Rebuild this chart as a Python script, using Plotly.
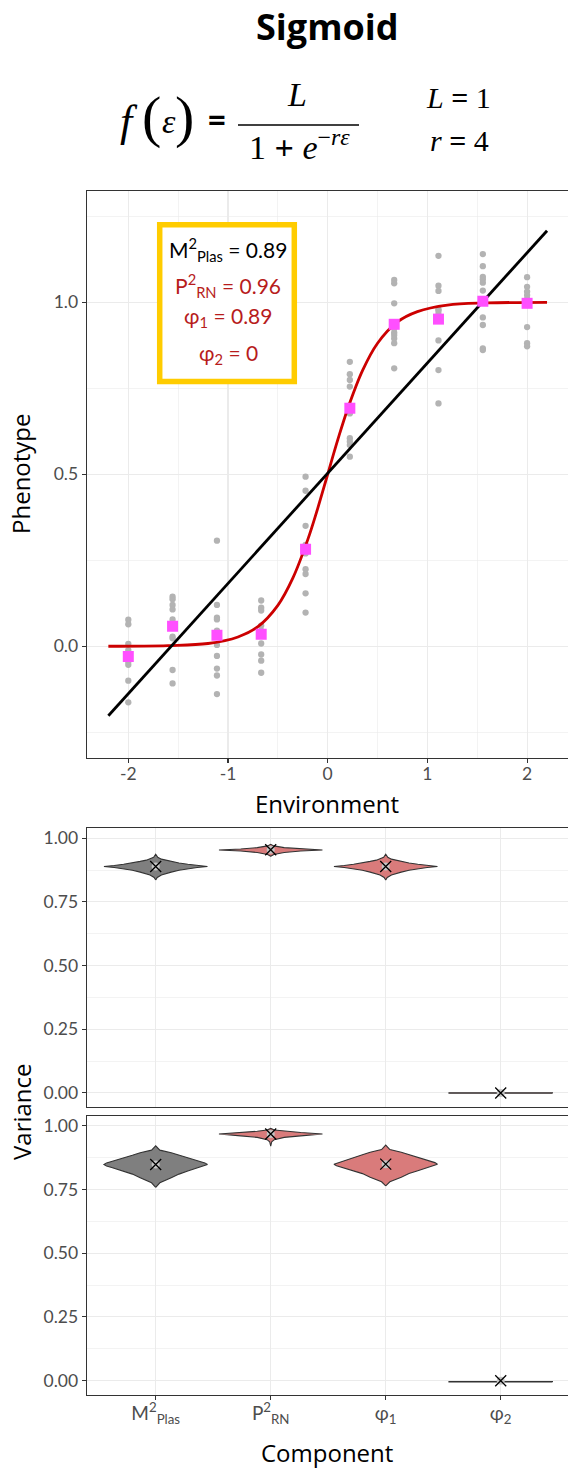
import plotly.graph_objects as go

W, H = 568, 1470
FONT = "Lato"
TFONT = "Open Sans"
SERIF = "Liberation Serif"

# ---------------- data: reaction-norm panel ----------------
env_levels = [-2.0, -1.556, -1.111, -0.667, -0.222, 0.222, 0.667, 1.111, 1.556, 2.0]
pheno_obs = [
    [0.077, 0.064, 0.007, -0.011, -0.035, -0.040, -0.045, -0.054, -0.100, -0.163],
    [0.144, 0.137, 0.120, 0.107, 0.078, 0.067, 0.028, 0.023, -0.069, -0.108],
    [0.307, 0.120, 0.083, 0.078, 0.045, 0.004, -0.028, -0.065, -0.085, -0.139],
    [0.133, 0.112, 0.104, 0.060, 0.045, 0.035, 0.008, -0.024, -0.042, -0.077],
    [0.493, 0.452, 0.350, 0.295, 0.274, 0.270, 0.224, 0.210, 0.154, 0.098],
    [0.827, 0.791, 0.774, 0.755, 0.700, 0.677, 0.605, 0.595, 0.585, 0.551],
    [1.065, 1.055, 0.997, 0.935, 0.924, 0.912, 0.905, 0.895, 0.881, 0.808],
    [1.135, 1.048, 1.033, 0.980, 0.975, 0.965, 0.960, 0.889, 0.803, 0.706],
    [1.140, 1.105, 1.074, 1.067, 1.057, 1.034, 0.956, 0.934, 0.866, 0.861],
    [1.073, 1.045, 1.031, 1.021, 1.010, 1.000, 0.995, 0.928, 0.881, 0.872],
]
mean_pheno = [-0.030, 0.058, 0.032, 0.035, 0.282, 0.692, 0.936, 0.951, 1.003, 0.997]

curve_x = [-2.2, -1.6, -1.2, -0.9, -0.7, -0.5, -0.35, -0.2, -0.1, 0.0,
           0.1, 0.2, 0.35, 0.5, 0.7, 0.9, 1.2, 1.6, 2.2]
curve_y = [0.000, 0.002, 0.008, 0.027, 0.057, 0.119, 0.198, 0.310, 0.401, 0.500,
           0.599, 0.690, 0.802, 0.881, 0.943, 0.973, 0.992, 0.998, 1.000]

fit_x = [-2.2, 2.2]
fit_y = [-0.202, 1.208]

env_ticks = [-2, -1, 0, 1, 2]
env_ticktext = ["-2", "-1", "0", "1", "2"]
pheno_ticks = [0, 0.5, 1.0]
pheno_ticktext = ["0.0", "0.5", "1.0"]

box_labels = ["M<sup>2</sup><sub>Plas</sub>", "P<sup>2</sup><sub>RN</sub>",
              "φ<sub>1</sub>", "φ<sub>2</sub>"]
box_values = ["0.89", "0.96", "0.89", "0"]

# ---------------- data: variance violins ----------------
comp_labels = ["M<sup>2</sup><sub>Plas</sub>", "P<sup>2</sup><sub>RN</sub>",
               "φ<sub>1</sub>", "φ<sub>2</sub>"]
var_ticks = [0, 0.25, 0.5, 0.75, 1.0]
var_ticktext = ["0.00", "0.25", "0.50", "0.75", "1.00"]

# panel A (middle)
mplas_a_y = [0.836, 0.846, 0.856, 0.862, 0.867, 0.874, 0.880, 0.885, 0.889,
             0.893, 0.898, 0.903, 0.909, 0.914, 0.918, 0.925, 0.937]
mplas_a_w = [0.0, 0.03, 0.11, 0.20, 0.30, 0.45, 0.62, 0.80, 1.0,
             0.80, 0.62, 0.45, 0.30, 0.18, 0.11, 0.04, 0.0]
prn_a_y = [0.929, 0.936, 0.944, 0.950, 0.954, 0.958, 0.963, 0.970, 0.976]
prn_a_w = [0.0, 0.06, 0.26, 0.58, 1.0, 0.58, 0.26, 0.06, 0.0]
phi1_a_y = [0.836, 0.846, 0.856, 0.862, 0.867, 0.874, 0.880, 0.885, 0.889,
            0.893, 0.898, 0.903, 0.909, 0.914, 0.918, 0.925, 0.937]
phi1_a_w = [0.0, 0.03, 0.11, 0.20, 0.30, 0.45, 0.62, 0.80, 1.0,
            0.80, 0.62, 0.45, 0.30, 0.18, 0.11, 0.04, 0.0]
phi2_a_y = [-0.001, 0.001]
phi2_a_w = [1.0, 1.0]
mean_a = [0.889, 0.955, 0.889, 0.0]

# panel B (bottom)
mplas_b_y = [0.758, 0.776, 0.796, 0.810, 0.822, 0.836, 0.842, 0.848,
             0.854, 0.860, 0.874, 0.884, 0.894, 0.904, 0.921]
mplas_b_w = [0.0, 0.08, 0.30, 0.45, 0.62, 0.85, 0.95, 1.0,
             0.95, 0.85, 0.62, 0.45, 0.30, 0.08, 0.0]
prn_b_y = [0.920, 0.937, 0.945, 0.954, 0.960, 0.967, 0.973, 0.978, 0.983, 0.989]
prn_b_w = [0.0, 0.02, 0.07, 0.26, 0.58, 1.0, 0.58, 0.26, 0.07, 0.0]
phi1_b_y = [0.764, 0.780, 0.798, 0.812, 0.823, 0.837, 0.843, 0.849,
            0.855, 0.861, 0.875, 0.886, 0.896, 0.906, 0.924]
phi1_b_w = [0.0, 0.08, 0.30, 0.45, 0.62, 0.85, 0.95, 1.0,
            0.95, 0.85, 0.62, 0.45, 0.30, 0.08, 0.0]
phi2_b_y = [-0.005, -0.003]
phi2_b_w = [1.0, 1.0]
mean_b = [0.848, 0.967, 0.849, 0.0]

violin_fill = ["#7F7F7F", "#D97B7B", "#D97B7B", "#D97B7B"]

# ---------------- styling constants ----------------
GRID = "#EBEBEB"
BORDER = "#333333"
TICKC = "#4D4D4D"
RED = "#CC0000"
PINK = "#FF4FFF"
GOLD = "#FFCC00"
BOXRED = "#B71C1C"

def px(x):
    return x / W

def py(y):
    return 1 - y / H

XDOM = [px(86.7), 1.0]
DOM_TOP = [py(757.7), py(191)]
DOM_MID = [py(1106.7), py(828.3)]
DOM_BOT = [py(1395), py(1115.7)]

fig = go.Figure()

# gray observations
obs_x, obs_y = [], []
for e, vals in zip(env_levels, pheno_obs):
    for v in vals:
        obs_x.append(e)
        obs_y.append(v)
fig.add_trace(go.Scatter(x=obs_x, y=obs_y, mode="markers",
                         marker=dict(color="#B3B3B3", size=6.3),
                         xaxis="x", yaxis="y", hoverinfo="skip"))
fig.add_trace(go.Scatter(x=curve_x, y=curve_y, mode="lines",
                         line=dict(color=RED, width=2.8, shape="spline"),
                         xaxis="x", yaxis="y"))
fig.add_trace(go.Scatter(x=fit_x, y=fit_y, mode="lines",
                         line=dict(color="black", width=2.8),
                         xaxis="x", yaxis="y"))
fig.add_trace(go.Scatter(x=env_levels, y=mean_pheno, mode="markers",
                         marker=dict(color=PINK, size=11, symbol="square"),
                         xaxis="x", yaxis="y"))

# violins
def add_violins(profiles, means, xa, ya):
    for i, (ys, ws) in enumerate(profiles):
        xs = [i + 0.45 * w for w in ws] + [i - 0.45 * w for w in reversed(ws)]
        yy = list(ys) + list(reversed(ys))
        xs.append(xs[0])
        yy.append(yy[0])
        fig.add_trace(go.Scatter(x=xs, y=yy, mode="lines", fill="toself",
                                 fillcolor=violin_fill[i],
                                 line=dict(color=BORDER, width=1.1),
                                 xaxis=xa, yaxis=ya, hoverinfo="skip"))
    cats = list(range(len(means)))
    fig.add_trace(go.Scatter(x=cats, y=means, mode="markers",
                             marker=dict(color="#C4C4C4", size=8),
                             xaxis=xa, yaxis=ya))
    fig.add_trace(go.Scatter(x=cats, y=means, mode="markers",
                             marker=dict(symbol="x-thin-open", size=11, color="black",
                                         line=dict(color="black", width=1.3)),
                             xaxis=xa, yaxis=ya))

add_violins([(mplas_a_y, mplas_a_w), (prn_a_y, prn_a_w),
             (phi1_a_y, phi1_a_w), (phi2_a_y, phi2_a_w)], mean_a, "x2", "y2")
add_violins([(mplas_b_y, mplas_b_w), (prn_b_y, prn_b_w),
             (phi1_b_y, phi1_b_w), (phi2_b_y, phi2_b_w)], mean_b, "x3", "y3")

tickfont = dict(family=FONT, size=17.5, color=TICKC)
common_x = dict(showline=True, linecolor=BORDER, linewidth=1.1, mirror=True,
                showgrid=True, gridcolor=GRID, gridwidth=1.1, zeroline=False,
                tickcolor=BORDER, ticklen=4, tickwidth=1.1, tickfont=tickfont)
common_y = dict(showline=True, linecolor=BORDER, linewidth=1.1, mirror=False,
                showgrid=True, gridcolor=GRID, gridwidth=1.1, zeroline=False,
                ticks="outside", tickcolor=BORDER, ticklen=4, tickwidth=1.1,
                tickfont=tickfont)

fig.update_layout(
    width=W, height=H,
    margin=dict(l=0, r=0, t=0, b=0),
    paper_bgcolor="white", plot_bgcolor="white",
    showlegend=False,
    font=dict(family=FONT, color="black"),
    xaxis=dict(domain=XDOM, anchor="y", range=[-2.4173, 2.4102],
               tickvals=env_ticks, ticktext=env_ticktext, ticks="outside",
               ticklabelstandoff=-4,
               minor=dict(tickvals=[-1.5, -0.5, 0.5, 1.5], showgrid=True,
                          gridcolor=GRID, gridwidth=0.6, ticklen=0),
               **common_x),
    yaxis=dict(domain=DOM_TOP, anchor="x", range=[-0.324, 1.3235],
               tickvals=pheno_ticks, ticktext=pheno_ticktext,
               minor=dict(tickvals=[-0.25, 0.25, 0.75, 1.25], showgrid=True,
                          gridcolor=GRID, gridwidth=0.6, ticklen=0),
               **common_y),
    xaxis2=dict(domain=XDOM, anchor="y2", range=[-0.6, 3.585],
                tickvals=[0, 1, 2, 3], showticklabels=False, ticks="",
                **common_x),
    yaxis2=dict(domain=DOM_MID, anchor="x2", range=[-0.054, 1.039],
                tickvals=var_ticks, ticktext=var_ticktext,
                minor=dict(tickvals=[0.125, 0.375, 0.625, 0.875], showgrid=True,
                           gridcolor=GRID, gridwidth=0.6, ticklen=0),
                **common_y),
    xaxis3=dict(domain=XDOM, anchor="y3", range=[-0.6, 3.585],
                tickvals=[0, 1, 2, 3], ticktext=comp_labels, ticks="outside",
                ticklabelstandoff=-3,
                **{**common_x, "tickfont": dict(family=FONT, size=19, color=TICKC)}),
    yaxis3=dict(domain=DOM_BOT, anchor="x3", range=[-0.056, 1.039],
                tickvals=var_ticks, ticktext=var_ticktext,
                minor=dict(tickvals=[0.125, 0.375, 0.625, 0.875], showgrid=True,
                           gridcolor=GRID, gridwidth=0.6, ticklen=0),
                **common_y),
)

# stats box in the top panel
fig.add_shape(type="rect", xref="x", yref="y", x0=-1.685, x1=-0.335,
              y0=0.770, y1=1.2256, line=dict(color=GOLD, width=5.5),
              fillcolor="white", layer="above")
box_y = [250, 285, 317, 354]
box_col = ["black", BOXRED, BOXRED, BOXRED]
for lab, val, yy, col in zip(box_labels, box_values, box_y, box_col):
    fig.add_annotation(x=px(228), y=py(yy), xref="paper", yref="paper",
                       text=f"{lab} = {val}", showarrow=False,
                       font=dict(family=FONT, size=21, color=col),
                       xanchor="center", yanchor="middle")

# title and formula
def ann(text, x, y, size, family=FONT, bold=False, **kw):
    fig.add_annotation(x=px(x), y=py(y), xref="paper", yref="paper",
                       text=f"<b>{text}</b>" if bold else text,
                       showarrow=False, xanchor="center", yanchor="middle",
                       font=dict(family=family, size=size, color="black"), **kw)

ann("Sigmoid", 327, 27, 36, family=TFONT, bold=True)
ann("<i>f</i>", 129, 121, 44, family=SERIF)
ann("(", 151, 117, 58, family=SERIF)
ann("<i>ε</i>", 169, 121, 34, family=SERIF)
ann(")", 184, 117, 58, family=SERIF)
ann("<b>=</b>", 217, 118, 34)
ann("<i>L</i>", 297, 95, 34, family=SERIF)
ann("1 <b>+</b> <i>e</i><sup>−<i>rε</i></sup>", 299, 145, 34, family=SERIF)
fig.add_shape(type="line", xref="paper", yref="paper",
              x0=px(238), x1=px(359), y0=py(125), y1=py(125),
              line=dict(color="black", width=1.3))
ann("<i>L</i> <b>=</b> 1", 458, 98, 30, family=SERIF)
ann("<i>r</i> <b>=</b> 4", 459, 140, 30, family=SERIF)

# axis titles
ann("Phenotype", 21, 474, 24, family=TFONT, textangle=-90)
ann("Environment", 327, 803, 24, family=TFONT)
ann("Variance", 21, 1112, 24, family=TFONT, textangle=-90)
ann("Component", 327, 1452, 24, family=TFONT)

fig.write_html(
    "out.html",
    config={"displayModeBar": False, "staticPlot": True},
    post_script="document.body.style.margin='0';document.body.style.overflow='hidden';",
)
